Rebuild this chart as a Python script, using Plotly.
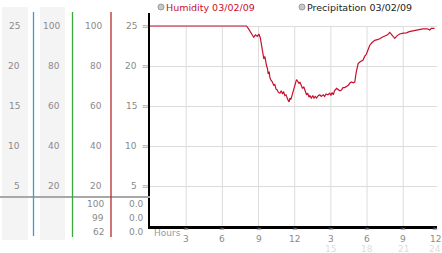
import plotly.graph_objects as go

# ---------------- data ----------------
hours = [0, 8.0, 8.15, 8.3, 8.45, 8.6, 8.75, 8.9, 9.03, 9.15, 9.25, 9.35, 9.44, 9.52, 9.6, 9.67,
         9.75, 9.8, 9.88, 9.95, 10.05, 10.15, 10.25, 10.35, 10.45, 10.55, 10.65, 10.77, 10.88,
         10.99, 11.08, 11.18, 11.28, 11.38, 11.46, 11.54, 11.6, 11.68, 11.78, 11.87, 11.97,
         12.07, 12.15, 12.25, 12.35, 12.43, 12.55, 12.65, 12.75, 12.85, 12.98, 13.08, 13.18,
         13.26, 13.38, 13.5, 13.6, 13.7, 13.81, 13.95, 14.08, 14.2, 14.36, 14.48, 14.6, 14.75,
         14.91, 15.0, 15.1, 15.2, 15.3, 15.47, 15.6, 15.75, 15.88, 16.0, 16.15, 16.3, 16.45,
         16.6, 16.71, 16.85, 16.98, 17.1, 17.26, 17.4, 17.55, 17.67, 17.8, 17.95, 18.1, 18.23,
         18.4, 18.64, 18.85, 19.06, 19.25, 19.47, 19.7, 19.88, 20.1, 20.3, 20.5, 20.71, 21.0,
         21.27, 21.5, 21.79, 22.0, 22.2, 22.62, 23.0, 23.2, 23.34, 23.6]
humidity = [25, 25, 24.7, 24.3, 24.0, 23.6, 23.9, 23.7, 24.0, 23.5, 22.6, 21.6, 20.9, 21.2, 20.3, 20.0,
            19.6, 19.0, 19.3, 18.5, 18.2, 18.0, 17.6, 17.7, 17.1, 17.0, 16.7, 16.6, 16.9,
            16.5, 16.8, 16.3, 16.4, 15.9, 15.7, 15.5, 16.0, 15.8, 16.4, 16.9, 17.6,
            18.1, 18.3, 18.1, 17.8, 18.0, 17.5, 17.2, 17.4, 16.8, 16.4, 16.6, 16.1,
            16.3, 16.0, 16.3, 16.0, 16.2, 16.0, 16.3, 16.4, 16.2, 16.4, 16.2, 16.5, 16.4,
            16.6, 16.3, 16.7, 16.4, 16.9, 17.2, 17.0, 16.9, 17.0, 17.3, 17.3, 17.4, 17.6,
            17.9, 18.0, 17.9, 18.0, 19.2, 20.3, 20.5, 20.6, 20.75, 21.2, 21.5, 22.1, 22.6,
            22.9, 23.2, 23.3, 23.4, 23.6, 23.75, 23.9, 24.2, 23.8, 23.45, 23.8, 24.0, 24.1,
            24.15, 24.3, 24.4, 24.5, 24.6, 24.65, 24.65, 24.5, 24.7, 24.7]

y_ticks = [25, 20, 15, 10, 5]
col1_labels = ["25", "20", "15", "10", "5"]
col2_labels = ["100", "80", "60", "40", "20"]
col3_labels = ["100", "80", "60", "40", "20"]
col4_labels = ["25", "20", "15", "10", "5"]
low_col3 = ["100", "99", "62"]
low_col4 = ["0.0", "0.0", "0.0"]

x_tick_hours = [3, 6, 9, 12, 15, 18, 21, 24]
x_tick_text = ["3", "6", "9", "12", "3", "6", "9", "12"]
x_second_hours = [15, 18, 21, 24]
x_second_text = ["15", "18", "21", "24"]
x_grid_hours = [3, 6, 9, 12, 15, 18, 21]

legend_names = ["Humidity 03/02/09", "Precipitation 03/02/09"]

# ---------------- layout helpers (pixel -> paper) ----------------
W, H = 442, 253
L, R, T, B = 150, 5, 13, 27
PW, PH = W - L - R, H - T - B
XMAX = 23.8


def px(xpix):
    return (xpix - L) / PW


def py(ypix):
    return (H - B - ypix) / PH


def hx(hour):
    return min(hour, 23.65)


FONT = "DejaVu Sans"
GREY = "#8a8a8a"
MARK = "#888888"

fig = go.Figure()
fig.add_trace(go.Scatter(x=hours, y=humidity, mode="lines",
                         line=dict(color="#c8102e", width=1.2),
                         hoverinfo="skip", showlegend=False))

shapes = []
annotations = []

# left column backgrounds
for x0, x1 in [(2, 28), (40, 65)]:
    shapes.append(dict(type="rect", xref="paper", yref="paper", x0=px(x0), x1=px(x1),
                       y0=py(240), y1=py(7), fillcolor="#f4f4f4", line=dict(width=0), layer="below"))

# grey separator line
shapes.append(dict(type="line", xref="paper", yref="paper", x0=px(0), x1=px(150),
                   y0=py(197), y1=py(197), line=dict(color="#a8a8a8", width=2)))

# colored vertical lines
for xv, col, yb in [(33.5, "#3a9fc8", 236), (72.5, "#3aa83a", 237), (111, "#b52a2a", 237)]:
    shapes.append(dict(type="line", xref="paper", yref="paper", x0=px(xv), x1=px(xv),
                       y0=py(yb), y1=py(12), line=dict(color=col, width=1.3)))

# vertical grid lines (only up to 25)
for hv in x_grid_hours:
    shapes.append(dict(type="line", xref="x", yref="y", x0=hv, x1=hv, y0=0, y1=25,
                       line=dict(color="#dcdcdc", width=1), layer="below"))

# legend circles
for cx in [161, 302]:
    shapes.append(dict(type="circle", xref="paper", yref="paper",
                       x0=px(cx - 3), x1=px(cx + 3), y0=py(10), y1=py(4),
                       fillcolor="#c8c8c8", line=dict(color="#999999", width=1)))

fs = 9


def ann(x, y, text, xanchor="right", color=GREY, size=fs, xref="paper", yref="paper"):
    annotations.append(dict(x=x, y=y, xref=xref, yref=yref, text=text, showarrow=False,
                            xanchor=xanchor, yanchor="middle",
                            font=dict(family=FONT, size=size, color=color), borderpad=0))


for v, a, b, c, d in zip(y_ticks, col1_labels, col2_labels, col3_labels, col4_labels):
    ann(px(21), v, a, yref="y")
    ann(px(61), v, b, yref="y")
    ann(px(103), v, c, yref="y")
    ann(px(138), v, d, yref="y")
    ann(px(145.5), v, "≈", xanchor="center", color=MARK, size=8, yref="y")

for ypix, a, b in zip([204, 218, 232], low_col3, low_col4):
    ann(px(105), py(ypix), a)
    ann(px(145), py(ypix), b)

# x axis labels
ann(px(153), py(233), "Hours", xanchor="left", color="#999999")
for hv, t in zip(x_tick_hours, x_tick_text):
    xa = hx(hv)
    ann(xa, py(238.7), t, xanchor="center", xref="x")
    ann(xa, py(229), "≈", xanchor="center", color=MARK, size=7, xref="x")
for hv, t in zip(x_second_hours, x_second_text):
    ann(hx(hv), py(248.7), t, xanchor="center", color="#dddddd", xref="x")

# legend text
ann(px(165), py(7), legend_names[0], xanchor="left", color="#c8102e", size=9.5)
ann(px(306), py(7), legend_names[1], xanchor="left", color="#222222", size=9.5)

fig.update_layout(
    width=W, height=H,
    margin=dict(l=L, r=R, t=T, b=B, pad=0),
    paper_bgcolor="white", plot_bgcolor="white",
    shapes=shapes, annotations=annotations,
    xaxis=dict(range=[0, XMAX], showgrid=False, zeroline=False, showticklabels=False,
               ticks="", showline=True, linecolor="black", linewidth=2.5, fixedrange=True),
    yaxis=dict(range=[0, 26.625], tickvals=y_ticks, showgrid=True, gridcolor="#dcdcdc",
               gridwidth=1, zeroline=False, showticklabels=False, ticks="",
               showline=True, linecolor="black", linewidth=2, fixedrange=True),
)

fig.write_html("out.html", config={"displayModeBar": False})
